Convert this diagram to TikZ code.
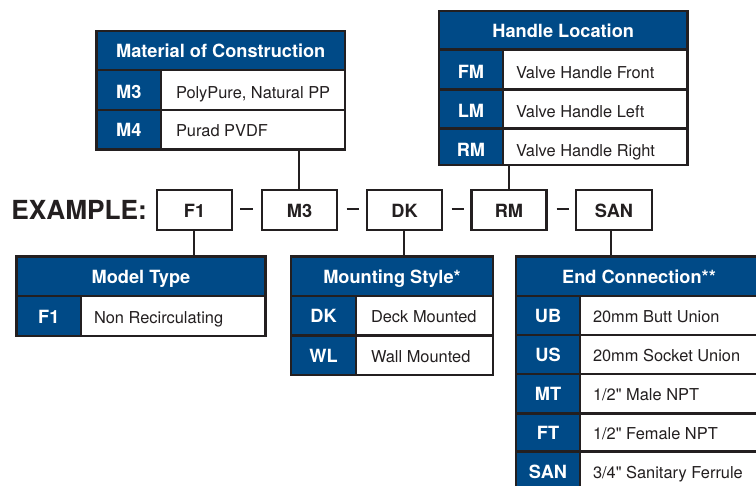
\documentclass[tikz,border=0pt]{standalone}
\usepackage{fontspec}
\setmainfont{TeX Gyre Heros}
\newfontfamily\plainfont{TeX Gyre Heros}
\newcommand{\straightq}{{\plainfont"}}
\definecolor{navy}{HTML}{004A87}
\definecolor{ink}{HTML}{231F20}
\tikzset{
  x=0.75pt,y=-0.75pt,
  lw/.style={line width=1.8pt},
  cellbase/.style={draw=ink,lw,inner sep=0pt,outer sep=0pt,rectangle},
  headcell/.style={cellbase,fill=navy,text=white,font=\fontsize{13.65pt}{15pt}\bfseries},
  codecell/.style={cellbase,fill=navy,text=white,font=\fontsize{13.65pt}{15pt}\bfseries},
  desccell/.style={cellbase,fill=white,text=ink,font=\fontsize{12.3pt}{14pt}\selectfont},
  partbox/.style={cellbase,fill=white,line width=2.1pt,text=ink,font=\fontsize{13.65pt}{15pt}\bfseries},
  conn/.style={draw=ink,line width=1.6pt},
  sepdash/.style={draw=ink,line width=2pt},
}
% #1 name, #2 x1, #3 y1, #4 x2, #5 y2, #6 style, #7 content
\newcommand{\tcell}[7]{%
  \pgfmathsetmacro{\cx}{(#2+#4)/2}%
  \pgfmathsetmacro{\cy}{(#3+#5)/2}%
  \pgfmathsetmacro{\cw}{(#4-#2)*0.75}%
  \pgfmathsetmacro{\ch}{(#5-#3)*0.75}%
  \node[text height=10.8pt,text depth=0pt,#6,minimum width=\cw pt,minimum height=\ch pt] (#1) at (\cx,\cy) {#7};}
% [#1 extra style], #2 name, #3 x1, #4 y1, #5 x2, #6 y2, #7 text offset in px, #8 text
\newcommand{\dcell}[8][]{%
  \pgfmathsetmacro{\cw}{(#5-#3)*0.75}%
  \pgfmathsetmacro{\co}{#7*0.75}%
  \tcell{#2}{#3}{#4}{#5}{#6}{desccell,#1}{\makebox[\cw pt][l]{\hspace{\co pt}#8}}}
\begin{document}
\begin{tikzpicture}
\useasboundingbox (0,0) rectangle (756,485);
\clip (0,0) rectangle (756,485);
\fill[white] (0,0) rectangle (756,485);

\node[anchor=base west,inner sep=0pt,text=ink,font=\fontsize{19.7pt}{22pt}\bfseries] (example) at (11,219) {EXAMPLE:};

% Part number boxes
\tcell{pF}{157}{190}{232}{230}{partbox}{F1}
\tcell{pM}{262}{190}{337}{230}{partbox}{M3}
\tcell{pD}{367}{190}{442}{230}{partbox}{DK}
\tcell{pR}{471.5}{190}{546.5}{230}{partbox}{RM}
\tcell{pS}{576}{190}{652}{230}{partbox}{SAN}

% Separators
\coordinate (d1a) at (240,209); \coordinate (d1b) at (252.5,209);
\coordinate (d2a) at (346.5,209); \coordinate (d2b) at (359,209);
\coordinate (d3a) at (451.5,209); \coordinate (d3b) at (464,209);
\coordinate (d4a) at (556.5,209); \coordinate (d4b) at (569,209);
\draw[sepdash] (d1a) -- (d1b);
\draw[sepdash] (d2a) -- (d2b);
\draw[sepdash] (d3a) -- (d3b);
\draw[sepdash] (d4a) -- (d4b);

% Material of Construction
\tcell{mH}{96.5}{31}{345}{70}{headcell}{Material of Construction}
\tcell{mC1}{96.5}{70}{161}{109.7}{codecell,text height=12.6pt}{M3}
\dcell[text height=12.6pt]{mD1}{161}{70}{345}{109.7}{15}{PolyPure, Natural PP}
\tcell{mC2}{96.5}{109.7}{161}{149.5}{codecell}{M4}
\dcell{mD2}{161}{109.7}{345}{149.5}{15}{Purad PVDF}

% Handle Location
\tcell{hH}{439}{11}{687.5}{49.5}{headcell}{Handle Location}
\tcell{hC1}{439}{49.5}{503}{89.3}{codecell,text height=13.4pt}{FM}
\dcell[text height=13.4pt]{hD1}{503}{49.5}{687.5}{89.3}{13}{Valve Handle Front}
\tcell{hC2}{439}{89.3}{503}{128.3}{codecell,text height=13.1pt}{LM}
\dcell[text height=13.1pt]{hD2}{503}{89.3}{687.5}{128.3}{13}{Valve Handle Left}
\tcell{hC3}{439}{128.3}{503}{165}{codecell,text height=14.2pt}{RM}
\dcell[text height=14.2pt]{hD3}{503}{128.3}{687.5}{165}{13}{Valve Handle Right}

% Model Type
\tcell{tH}{16.5}{256.5}{265.5}{296}{headcell}{Model Type}
\tcell{tC1}{16.5}{296}{81}{336}{codecell}{F1}
\dcell{tD1}{81}{296}{265.5}{336}{13}{Non Recirculating}

% Mounting Style
\tcell{sH}{291}{256.5}{493}{296}{headcell}{Mounting Style*}
\tcell{sC1}{291}{296}{356}{335.5}{codecell}{DK}
\dcell{sD1}{356}{296}{493}{335.5}{15}{Deck Mounted}
\tcell{sC2}{291}{335.5}{356}{375}{codecell}{WL}
\dcell{sD2}{356}{335.5}{493}{375}{15}{Wall Mounted}

% End Connection
\tcell{eH}{516}{256.5}{770}{296}{headcell}{\hspace{-6pt}End Connection**}
\tcell{eC1}{516}{296}{580}{335}{codecell}{UB}
\dcell{eD1}{580}{296}{770}{335}{13}{20mm Butt Union}
\tcell{eC2}{516}{335}{580}{374}{codecell}{US}
\dcell{eD2}{580}{335}{770}{374}{13}{20mm Socket Union}
\tcell{eC3}{516}{374}{580}{413.3}{codecell}{MT}
\dcell{eD3}{580}{374}{770}{413.3}{13}{1/2\straightq{} Male NPT}
\tcell{eC4}{516}{413.3}{580}{451.5}{codecell}{FT}
\dcell{eD4}{580}{413.3}{770}{451.5}{13}{1/2\straightq{} Female NPT}
\tcell{eC5}{516}{451.5}{580}{491}{codecell}{SAN}
\dcell{eD5}{580}{451.5}{770}{491}{13}{3/4\straightq{} Sanitary Ferrule}

% Connectors
\draw[conn] (pF.south -| 194,0) -- (tH.north -| 194,0);
\draw[conn] (pM.north -| 299,0) -- (mD2.south -| 299,0);
\draw[conn] (pD.south -| 404,0) -- (sH.north -| 404,0);
\draw[conn] (pR.north -| 508.7,0) -- (hD3.south -| 508.7,0);
\draw[conn] (pS.south -| 611.3,0) -- (eH.north -| 611.3,0);
\end{tikzpicture}
\end{document}
